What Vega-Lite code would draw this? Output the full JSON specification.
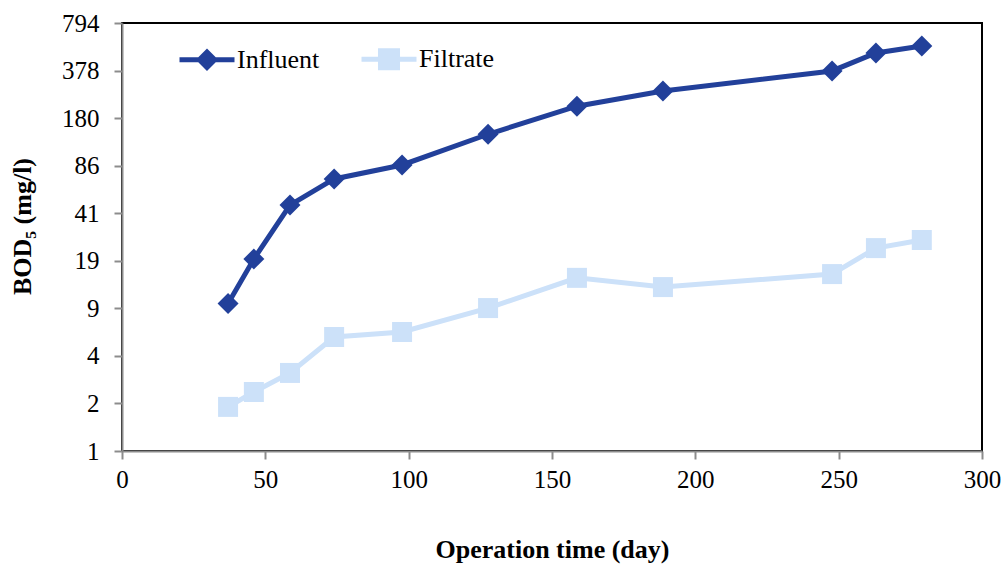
{
  "$schema": "https://vega.github.io/schema/vega-lite/v6.json",
  "width": 860,
  "height": 428,
  "autosize": {"type": "none"},
  "padding": {"left": 122, "top": 23, "right": 21, "bottom": 114},
  "background": "white",
  "config": {
    "font": "Liberation Serif",
    "view": {"stroke": "black", "strokeWidth": 2}
  },
  "data": {
    "values": [
      {"day": 37, "bod": 10.0, "series": "Influent"},
      {"day": 46, "bod": 20.0, "series": "Influent"},
      {"day": 58.6, "bod": 46.4, "series": "Influent"},
      {"day": 74, "bod": 69.7, "series": "Influent"},
      {"day": 97.7, "bod": 86.7, "series": "Influent"},
      {"day": 127.7, "bod": 140, "series": "Influent"},
      {"day": 158.7, "bod": 217, "series": "Influent"},
      {"day": 188.7, "bod": 275, "series": "Influent"},
      {"day": 247.7, "bod": 376, "series": "Influent"},
      {"day": 263, "bod": 498, "series": "Influent"},
      {"day": 279, "bod": 555, "series": "Influent"},
      {"day": 37, "bod": 1.99, "series": "Filtrate"},
      {"day": 46, "bod": 2.51, "series": "Filtrate"},
      {"day": 58.6, "bod": 3.38, "series": "Filtrate"},
      {"day": 74, "bod": 5.92, "series": "Filtrate"},
      {"day": 97.7, "bod": 6.4, "series": "Filtrate"},
      {"day": 127.7, "bod": 9.3, "series": "Filtrate"},
      {"day": 158.7, "bod": 14.9, "series": "Filtrate"},
      {"day": 188.7, "bod": 12.9, "series": "Filtrate"},
      {"day": 247.7, "bod": 15.8, "series": "Filtrate"},
      {"day": 263, "bod": 23.7, "series": "Filtrate"},
      {"day": 279, "bod": 26.9, "series": "Filtrate"}
    ]
  },
  "encoding": {
    "x": {
      "field": "day",
      "type": "quantitative",
      "scale": {"domain": [0, 300], "nice": false},
      "axis": {
        "title": "Operation time (day)",
        "values": [0, 50, 100, 150, 200, 250, 300],
        "grid": false,
        "labelFlush": false,
        "domainColor": "#8c8c8c",
        "domainWidth": 2,
        "tickColor": "#8c8c8c",
        "tickWidth": 2,
        "tickSize": 8,
        "labelFont": "Liberation Serif",
        "labelFontSize": 25,
        "labelColor": "black",
        "labelPadding": 8,
        "titleFont": "Liberation Serif",
        "titleFontSize": 26,
        "titleFontWeight": "bold",
        "titleColor": "black",
        "titlePadding": 44
      }
    },
    "y": {
      "field": "bod",
      "type": "quantitative",
      "scale": {"type": "log", "domain": [1, 794.280046], "nice": false},
      "axis": {
        "title": "BOD₅ (mg/l)",
        "values": [1, 2.1, 4.41, 9.261, 19.4481, 40.84101, 85.766121, 180.1088541, 378.2285936, 794.280046],
        "format": ".0f",
        "grid": false,
        "labelFlush": false,
        "domainColor": "#8c8c8c",
        "domainWidth": 2,
        "tickColor": "#8c8c8c",
        "tickWidth": 2,
        "tickSize": 8,
        "labelFont": "Liberation Serif",
        "labelFontSize": 25,
        "labelColor": "black",
        "labelPadding": 15,
        "titleFont": "Liberation Serif",
        "titleFontSize": 26,
        "titleFontWeight": "bold",
        "titleColor": "black",
        "titleX": -100,
        "titleY": 203,
        "titleBaseline": "middle",
        "titleAlign": "center",
        "titleAngle": 270
      }
    }
  },
  "layer": [
    {
      "mark": {"type": "line", "strokeWidth": 5},
      "encoding": {
        "color": {
          "field": "series",
          "type": "nominal",
          "scale": {"domain": ["Influent", "Filtrate"], "range": ["#22409A", "#CCE1F9"]},
          "legend": {
            "title": null,
            "orient": "none",
            "direction": "horizontal",
            "legendX": 55,
            "legendY": 6,
            "padding": 0,
            "symbolSize": 3025,
            "symbolStrokeWidth": 5,
            "labelFont": "Liberation Serif",
            "labelFontSize": 26,
            "labelColor": "black",
            "labelOffset": 0,
            "columnPadding": 31,
            "labelLimit": 200,
            "encode": {
              "symbols": {
                "update": {
                  "shape": {"signal": "datum.value === 'Influent' ? 'M-1,0H1M-0.28,0L0,-0.28L0.28,0L0,0.28Z' : 'M-1,0H1M-0.31,-0.31H0.31V0.31H-0.31Z'"},
                  "fill": {"signal": "datum.value === 'Influent' ? '#22409A' : '#CCE1F9'"},
                  "fillOpacity": {"value": 1},
                  "strokeWidth": {"value": 5}
                }
              }
            }
          }
        }
      }
    },
    {
      "transform": [{"filter": "datum.series === 'Influent'"}],
      "mark": {"type": "point", "filled": true, "opacity": 1, "shape": "diamond", "size": 440, "color": "#22409A"}
    },
    {
      "transform": [{"filter": "datum.series === 'Filtrate'"}],
      "mark": {"type": "point", "filled": true, "opacity": 1, "shape": "square", "size": 400, "color": "#CCE1F9"}
    }
  ]
}
